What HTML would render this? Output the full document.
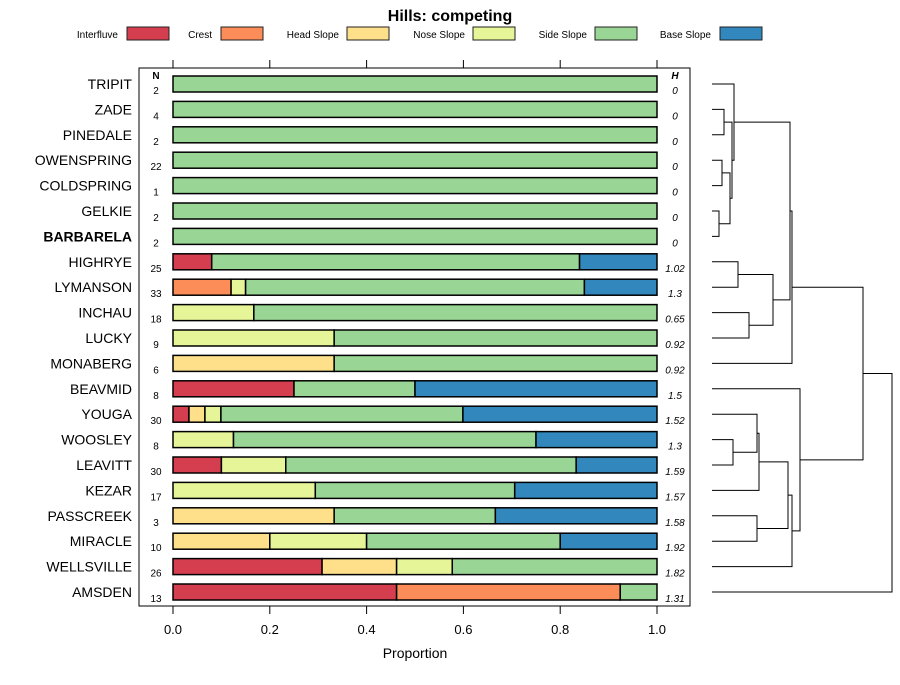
<!DOCTYPE html>
<html><head><meta charset="utf-8"><style>
body{margin:0;background:#fff}
svg text{font-family:"Liberation Sans",sans-serif}
</style></head><body>
<svg id="c" width="900" height="680" xmlns="http://www.w3.org/2000/svg"></svg>
<script>
const names=["TRIPIT","ZADE","PINEDALE","OWENSPRING","COLDSPRING","GELKIE","BARBARELA","HIGHRYE","LYMANSON","INCHAU","LUCKY","MONABERG","BEAVMID","YOUGA","WOOSLEY","LEAVITT","KEZAR","PASSCREEK","MIRACLE","WELLSVILLE","AMSDEN"];
const nVals=[2,4,2,22,1,2,2,25,33,18,9,6,8,30,8,30,17,3,10,26,13];
const hLabels=["0","0","0","0","0","0","0","1.02","1.3","0.65","0.92","0.92","1.5","1.52","1.3","1.59","1.57","1.58","1.92","1.82","1.31"];
const classes=["Interfluve","Crest","Head Slope","Nose Slope","Side Slope","Base Slope"];
const colors=["#D53E4F","#FC8D59","#FEE08B","#E6F598","#99D594","#3288BD"];
const interfluve=[0,0,0,0,0,0,0,0.08,0,0,0,0,0.25,0.033,0,0.1,0,0,0,0.308,0.462];
const crest=[0,0,0,0,0,0,0,0,0.12,0,0,0,0,0,0,0,0,0,0,0,0.462];
const headSlope=[0,0,0,0,0,0,0,0,0,0,0,0.333,0,0.033,0,0,0,0.333,0.2,0.154,0];
const noseSlope=[0,0,0,0,0,0,0,0,0.03,0.167,0.333,0,0,0.033,0.125,0.133,0.294,0,0.2,0.115,0];
const sideSlope=[1,1,1,1,1,1,1,0.76,0.70,0.833,0.667,0.667,0.25,0.5,0.625,0.6,0.412,0.333,0.4,0.423,0.076];
const baseSlope=[0,0,0,0,0,0,0,0.16,0.15,0,0,0,0.5,0.401,0.25,0.167,0.294,0.334,0.2,0,0];
const series=[interfluve,crest,headSlope,noseSlope,sideSlope,baseSlope];
const xTicks=[0,0.2,0.4,0.6,0.8,1.0];
const xTickLabels=["0.0","0.2","0.4","0.6","0.8","1.0"];
// dendrogram merges: [a, b, height(px x)] ; negative = leaf index encoded as ~i
const merges=[
 [~1,~2,724],[~3,~4,722],[~5,~6,719],[1,2,730],[0,3,732],[~0,4,734],
 [~7,~8,738],[~9,~10,749],[6,7,773],[5,8,790],[9,~11,792],
 [~14,~15,733],[~13,11,757],[12,~16,759],[~17,~18,757],[13,14,788],[15,~19,792],[16,~12,800],
 [10,17,863],[18,~20,892]];

const S=document.getElementById('c');const NS="http://www.w3.org/2000/svg";
function el(t,a,p){const e=document.createElementNS(NS,t);for(const k in a)e.setAttribute(k,a[k]);(p||S).appendChild(e);return e;}
const X=v=>173+v*484;
const Y=i=>84+i*25.4;
const tt=el('text',{x:450,y:21,'text-anchor':'middle','font-size':16,'font-weight':'bold'});tt.textContent="Hills: competing";

const lgX=[[118,127],[212,221],[339,347],[465,473],[587,595],[711,720]];
classes.forEach((c,k)=>{
 const g=el('g',{});
 
 
 const t=el('text',{x:lgX[k][0],y:38,'text-anchor':'end','font-size':10},g);t.textContent=c;
 el('rect',{x:lgX[k][1],y:27,width:42,height:13,fill:colors[k],stroke:'#222','stroke-width':1},g);
});
const frame=el('rect',{x:139,y:68,width:551,height:538,fill:'none',stroke:'#000','stroke-width':1});

xTicks.forEach((v,k)=>{
 el('line',{x1:X(v),x2:X(v),y1:60,y2:68,stroke:'#000'});
 el('line',{x1:X(v),x2:X(v),y1:606,y2:614,stroke:'#000'});
 const t=el('text',{x:X(v),y:634,'text-anchor':'middle','font-size':13});t.textContent=xTickLabels[k];
 
});
const xt=el('text',{x:415,y:658,'text-anchor':'middle','font-size':14});xt.textContent="Proportion";

let h1=el('text',{x:156,y:79,'text-anchor':'middle','font-size':10,'font-weight':'bold'});h1.textContent="N";
let h2=el('text',{x:675,y:79,'text-anchor':'middle','font-size':10,'font-weight':'bold','font-style':'italic'});h2.textContent="H";
names.forEach((n,i)=>{
 const y=Y(i);
 const lb=el('text',{x:132,y:y+5,'text-anchor':'end','font-size':14,'font-weight':n==="BARBARELA"?'bold':'normal'});lb.textContent=n;
 
 const nt=el('text',{x:156,y:y+10,'text-anchor':'middle','font-size':10});nt.textContent=nVals[i];
 
 const ht=el('text',{x:675,y:y+10,'text-anchor':'middle','font-size':10,'font-style':'italic'});ht.textContent=hLabels[i];
 
 let cum=0;
 series.forEach((s,k)=>{
  const v=s[i];if(v<=0)return;
  const r=el('rect',{x:X(cum),y:y-8,width:X(cum+v)-X(cum),height:16,fill:colors[k],stroke:'#000','stroke-width':1.5});
  
  cum+=v;
 });
});
// dendrogram
const nodes=[];
function pos(ref){ if(ref<0){const i=~ref;return {x:712,y:Y(i)};} return nodes[ref]; }
merges.forEach(m=>{
 const a=pos(m[0]),b=pos(m[1]),h=m[2];
 const p=el('path',{d:`M${a.x},${a.y}H${h}V${b.y}H${b.x}`,fill:'none',stroke:'#000','stroke-width':1});
 
 nodes.push({x:h,y:(a.y+b.y)/2});
});
</script>
</body></html>
